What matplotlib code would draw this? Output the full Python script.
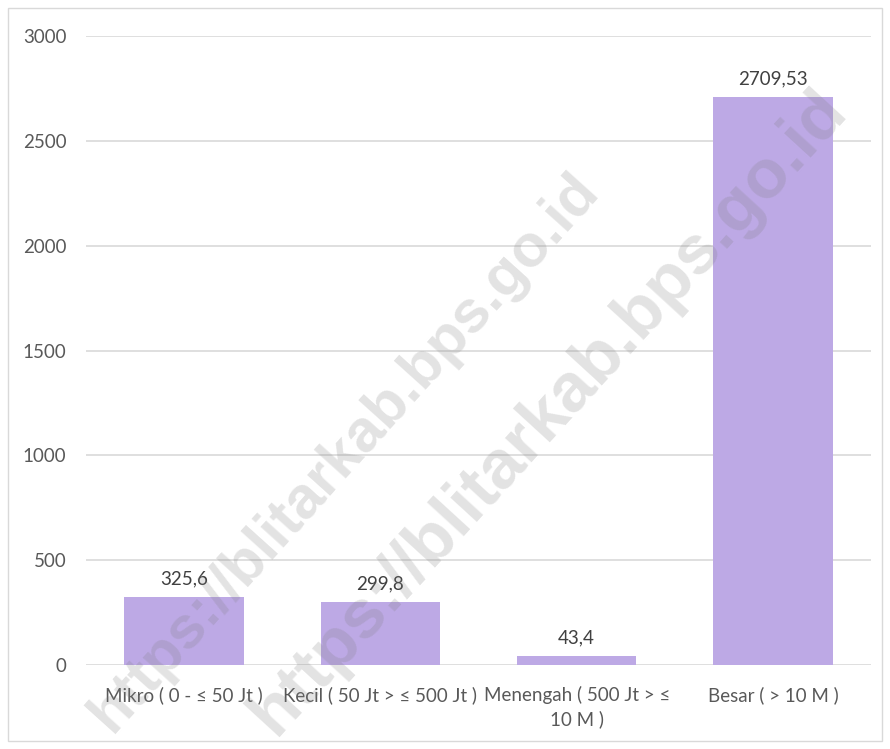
import numpy as np
import matplotlib.pyplot as plt
from matplotlib.patches import Rectangle

categories = ['Mikro ( 0 - ≤ 50 Jt )', 'Kecil ( 50 Jt > ≤ 500 Jt )',
              'Menengah ( 500 Jt > ≤\n10 M )', 'Besar ( > 10 M )']
values = [325.6, 299.8, 43.4, 2709.53]
value_labels = ['325,6', '299,8', '43,4', '2709,53']
y_ticks = [0, 500, 1000, 1500, 2000, 2500, 3000]
watermark = 'https://blitarkab.bps.go.id'

plt.rcParams['font.family'] = ['Lato', 'DejaVu Sans']

BAR_COLOR = '#BDA9E5'
GRID_COLOR = '#D9D9D9'
TEXT_COLOR = '#595959'

fig = plt.figure(figsize=(8.9, 7.49), dpi=100)
ax = fig.add_axes([86 / 890, 1 - 665 / 749, (871 - 86) / 890, (665 - 36) / 749])

x = np.arange(len(categories))
bars = ax.bar(x, values, width=0.61, color=BAR_COLOR, zorder=2)
ax.bar_label(bars, labels=value_labels, padding=7, fontsize=13.5, color='#404040')

ax.set_xlim(-0.5, len(categories) - 0.5)
ax.set_ylim(0, 3000)
ax.set_yticks(y_ticks)
ax.set_yticklabels([str(t) for t in y_ticks])
ax.set_xticks(x)
ax.set_xticklabels(categories, linespacing=1.45)
ax.tick_params(axis='both', length=0, labelsize=13.5, labelcolor=TEXT_COLOR)
ax.tick_params(axis='y', pad=14)
ax.tick_params(axis='x', pad=15)
ax.grid(axis='y', color=GRID_COLOR, linewidth=1.2, zorder=0)
ax.set_axisbelow(True)
for s in ax.spines.values():
    s.set_visible(False)

# chart border
fig.patches.append(Rectangle((8 / 890, 8 / 749), 874 / 890, 733 / 749, transform=fig.transFigure,
                             fill=False, edgecolor='#D9D9D9', linewidth=1))

# watermark
fig.text(345 / 890, 1 - 452 / 749, watermark, fontsize=43, fontweight='bold', color='#7F7F7F',
         alpha=0.22, rotation=48, ha='center', va='center', rotation_mode='anchor',
         family=['Liberation Sans'], zorder=10)
fig.text(548 / 890, 1 - 412 / 749, watermark, fontsize=50, fontweight='bold', color='#7F7F7F',
         alpha=0.22, rotation=47.5, ha='center', va='center', rotation_mode='anchor',
         family=['Liberation Sans'], zorder=10)

fig.savefig('out.png', dpi=100, facecolor='white')
